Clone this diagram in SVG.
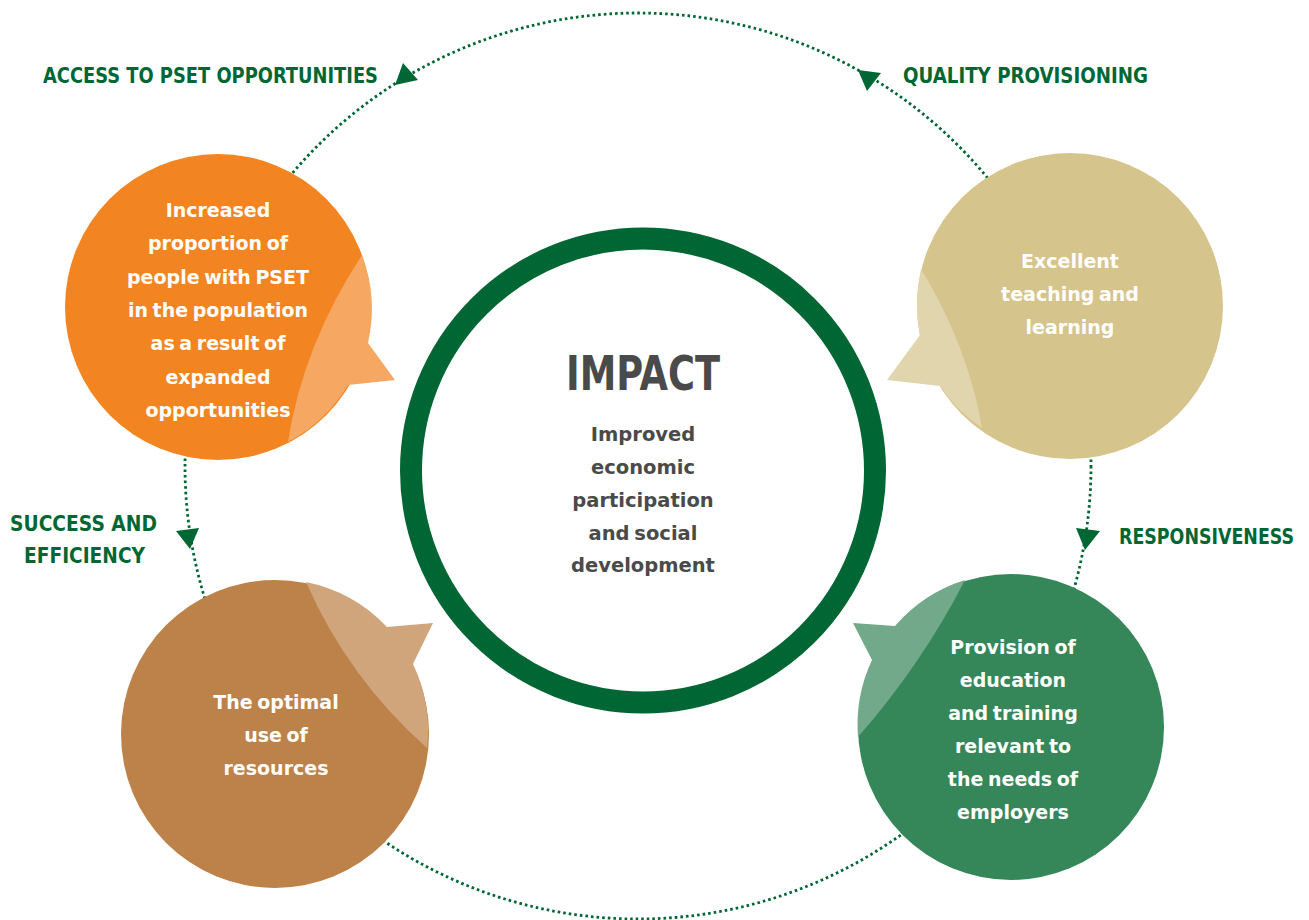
<svg xmlns="http://www.w3.org/2000/svg" width="1309" height="920" viewBox="0 0 1309 920">
<style>
.dots{fill:none;stroke:#006633;stroke-width:2.8;stroke-dasharray:2.6 3}
.head{fill:#006633}
.lbl{font-family:"DejaVu Sans Condensed","DejaVu Sans",sans-serif;font-weight:bold;font-size:21px;fill:#006633}
.bt{font-family:"DejaVu Sans",sans-serif;font-weight:bold;font-size:19px;fill:#ffffff;text-anchor:middle;word-spacing:-2px}
.ct{font-family:"DejaVu Sans",sans-serif;font-weight:bold;font-size:19.5px;fill:#4a4a4a;text-anchor:middle;word-spacing:-2px}
.imp{font-family:"DejaVu Sans Condensed","DejaVu Sans",sans-serif;font-weight:bold;font-size:48px;fill:#4a4a4a}
</style>
<rect width="1309" height="920" fill="#ffffff"/>
<g id="connectors">
<circle class="dots" cx="638" cy="466" r="453"/>
<polygon class="head" points="403,63 418,80 395,85"/>
<polygon class="head" points="858,70 881,73 867,91"/>
<polygon class="head" points="176,531 199,528 190,549"/>
<polygon class="head" points="1076,528 1100,531 1085,550"/>
</g>
<g id="labels">
<text class="lbl" x="43" y="82.5" textLength="335" lengthAdjust="spacingAndGlyphs">ACCESS TO PSET OPPORTUNITIES</text>
<text class="lbl" x="903" y="82.5" textLength="245" lengthAdjust="spacingAndGlyphs">QUALITY PROVISIONING</text>
<text class="lbl" x="10" y="530.5" textLength="147" lengthAdjust="spacingAndGlyphs">SUCCESS AND</text>
<text class="lbl" x="24" y="563" textLength="121" lengthAdjust="spacingAndGlyphs">EFFICIENCY</text>
<text class="lbl" x="1119" y="543.5" textLength="175" lengthAdjust="spacingAndGlyphs">RESPONSIVENESS</text>
</g>
<g id="access">
<circle cx="218" cy="307" r="153" fill="#F38422"/>
<path d="M362,255 Q303,345 288,442 A153 153 0 0 0 348,385 L395,380 L368,343 A153 153 0 0 0 362,255 Z" fill="#F6A862"/>
<text class="bt" x="218" y="217">Increased</text>
<text class="bt" x="218" y="250.3">proportion of</text>
<text class="bt" x="218" y="283.6">people with PSET</text>
<text class="bt" x="218" y="316.9">in the population</text>
<text class="bt" x="218" y="350.2">as a result of</text>
<text class="bt" x="218" y="383.5">expanded</text>
<text class="bt" x="218" y="416.8">opportunities</text>
</g>
<g id="quality">
<circle cx="1070" cy="306" r="153" fill="#D6C48D"/>
<path d="M921,269 Q968,346 982,428 A153 153 0 0 1 940,386 L887,380 L920,335 A153 153 0 0 1 921,269 Z" fill="#E0D5AD"/>
<text class="bt" x="1070" y="268">Excellent</text>
<text class="bt" x="1070" y="301">teaching and</text>
<text class="bt" x="1070" y="334">learning</text>
</g>
<g id="success">
<circle cx="275" cy="734" r="154" fill="#BC8249"/>
<path d="M306,582 Q348,678 427,748 A154 154 0 0 0 413,664 L433,623 L387,627 A154 154 0 0 0 306,582 Z" fill="#D1A57C"/>
<text class="bt" x="276" y="709">The optimal</text>
<text class="bt" x="276" y="742">use of</text>
<text class="bt" x="276" y="775">resources</text>
</g>
<g id="responsiveness">
<circle cx="1011" cy="727" r="153" fill="#358659"/>
<path d="M965,580 Q922,664 858,737 A153 153 0 0 1 872,660 L853,623 L895,626 A153 153 0 0 1 965,580 Z" fill="#71A98A"/>
<text class="bt" x="1013" y="654">Provision of</text>
<text class="bt" x="1013" y="687">education</text>
<text class="bt" x="1013" y="720">and training</text>
<text class="bt" x="1013" y="753">relevant to</text>
<text class="bt" x="1013" y="786">the needs of</text>
<text class="bt" x="1013" y="819">employers</text>
</g>
<g id="impact">
<circle cx="643" cy="470.5" r="232" fill="#ffffff" stroke="#006633" stroke-width="22"/>
<text class="imp" x="566" y="390" textLength="154" lengthAdjust="spacingAndGlyphs">IMPACT</text>
<text class="ct" x="643" y="441">Improved</text>
<text class="ct" x="643" y="474">economic</text>
<text class="ct" x="643" y="507">participation</text>
<text class="ct" x="643" y="540">and social</text>
<text class="ct" x="643" y="572">development</text>
</g>
</svg>
